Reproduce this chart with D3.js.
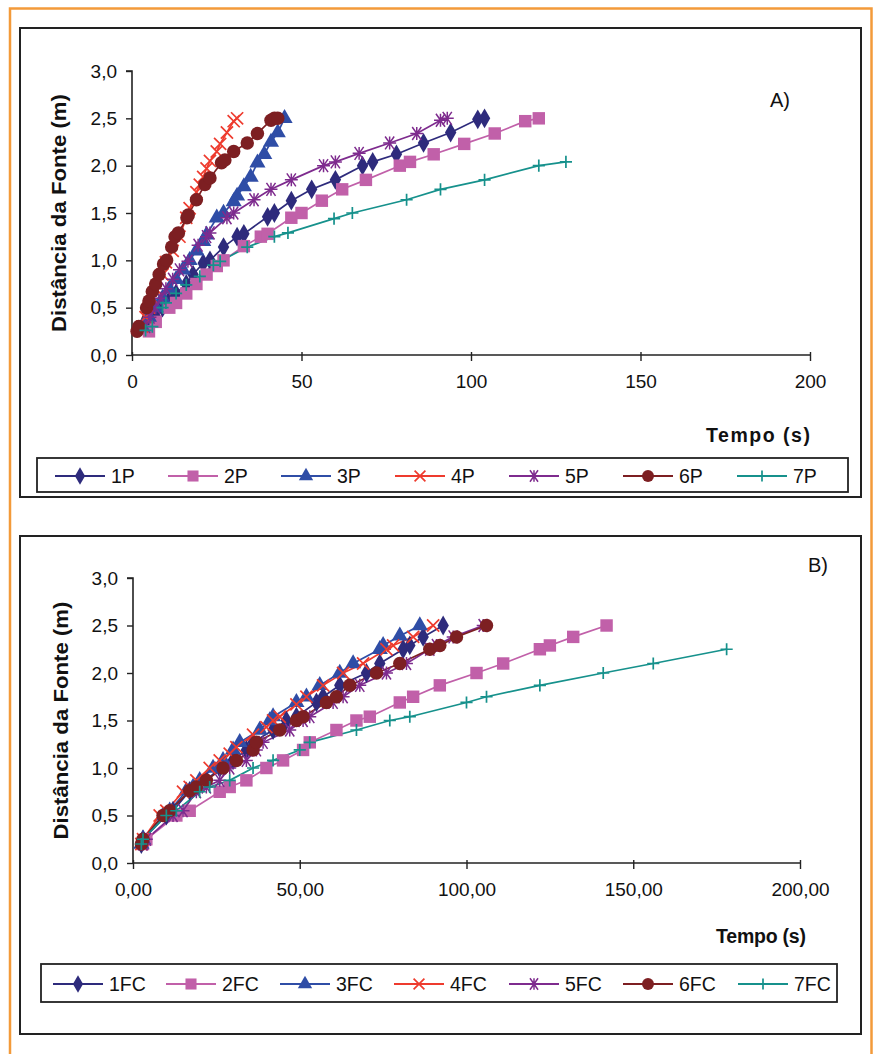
<!DOCTYPE html>
<html><head><meta charset="utf-8">
<script src="https://cdn.jsdelivr.net/npm/d3@7"></script>
<style>body{margin:0;background:#fff}svg{display:block}text{font-family:"Liberation Sans",Arial,sans-serif;fill:#111}</style>
</head><body><svg id="c" width="880" height="1054"></svg>
<script>
// ---- data ----
const seriesNamesA = ["1P","2P","3P","4P","5P","6P","7P"];
const seriesNamesB = ["1FC","2FC","3FC","4FC","5FC","6FC","7FC"];
const colors = ["#2E2B7C","#C160A9","#2F4DA6","#EE3B2E","#7E2B8E","#7D1F22","#16918C"];
const shapes = ["diamond","square","triangle","x","star","circle","plus"];
const xTicksA = [0,50,100,150,200];
const xTicksB = [0,50,100,150,200];
const yTicks = [0,0.5,1.0,1.5,2.0,2.5,3.0];

const a1P = [[5,0.3],[7,0.4],[9,0.5],[11,0.58],[13,0.65],[16,0.75],[18,0.85],[21,0.97],[23,1.0],[27,1.14],[31,1.25],[33,1.28],[40,1.46],[42,1.5],[47,1.63],[53,1.75],[60,1.85],[68,2.0],[71,2.04],[78,2.12],[86,2.24],[94,2.35],[102,2.49],[104,2.5]];
const a2P = [[5,0.25],[7,0.35],[11,0.5],[13,0.55],[16,0.65],[19,0.75],[22,0.85],[25,0.94],[27,1.0],[33,1.15],[38,1.25],[40,1.28],[47,1.45],[50,1.5],[56,1.63],[62,1.75],[69,1.85],[79,2.0],[82,2.04],[89,2.12],[98,2.23],[107,2.34],[116,2.47],[120,2.5]];
const a3P = [[3,0.3],[5,0.4],[7,0.5],[9,0.6],[11,0.7],[13,0.8],[15,0.9],[17,1.0],[19,1.1],[21,1.2],[22,1.27],[25,1.45],[27,1.5],[30,1.62],[31,1.68],[33,1.78],[35,1.88],[37,2.03],[39,2.12],[41,2.25],[43,2.35],[45,2.5]];
const a4P = [[3,0.3],[4,0.4],[5,0.5],[6,0.6],[7,0.7],[9,0.85],[10,0.98],[12,1.1],[14,1.25],[16,1.45],[17,1.55],[19,1.72],[20,1.8],[21,1.88],[22,1.97],[23,2.05],[25,2.15],[26,2.23],[28,2.35],[30,2.47],[31,2.5]];
const a5P = [[4,0.3],[5.3,0.4],[7,0.5],[8.5,0.6],[10,0.7],[12,0.8],[14,0.9],[16.5,0.99],[19.5,1.16],[22,1.25],[23,1.29],[28,1.45],[30,1.5],[36,1.64],[41,1.75],[47,1.85],[56.5,2.0],[60,2.04],[67,2.13],[76,2.24],[84,2.34],[91,2.48],[93,2.5]];
const a6P = [[1.5,0.25],[2,0.3],[4.3,0.5],[5,0.57],[6,0.67],[7,0.75],[8,0.85],[9.3,0.96],[10.2,1.0],[11.7,1.14],[12.7,1.25],[13.7,1.29],[16.2,1.45],[16.6,1.48],[19,1.64],[21.5,1.8],[23,1.87],[26.4,2.03],[27.4,2.06],[30,2.15],[34,2.24],[37,2.34],[41,2.48],[42,2.5],[43,2.5]];
const a7P = [[4,0.26],[6,0.3],[9,0.5],[10,0.55],[13,0.65],[16,0.74],[20,0.83],[24,0.95],[26,0.99],[34,1.14],[42,1.25],[46,1.29],[59.6,1.44],[65,1.5],[81,1.64],[91,1.75],[104,1.85],[120,2.0],[128,2.04]];

const b1FC = [[2.5,0.2],[3,0.25],[10,0.5],[12,0.55],[17,0.76],[19,0.8],[22,0.87],[26,1.0],[30,1.08],[34,1.19],[36,1.27],[42,1.4],[46,1.5],[49,1.54],[55,1.69],[57,1.75],[62,1.87],[70,2.0],[74,2.1],[81,2.25],[83,2.29],[87,2.38],[93,2.5]];
const b2FC = [[3,0.2],[4,0.25],[13,0.5],[17,0.55],[26,0.75],[29,0.8],[34,0.87],[40,1.0],[45,1.08],[51,1.19],[53,1.27],[61,1.4],[67,1.5],[71,1.54],[80,1.69],[84,1.75],[92,1.87],[103,2.0],[111,2.1],[122,2.25],[125,2.29],[132,2.38],[142,2.5]];
const b3FC = [[2.5,0.2],[3,0.25],[9,0.5],[11,0.55],[16,0.76],[18,0.8],[20,0.87],[24,1.0],[27,1.08],[30,1.19],[32,1.27],[38,1.4],[41,1.5],[42,1.54],[49,1.69],[52,1.75],[56,1.87],[62,2.0],[66,2.1],[74,2.25],[75,2.29],[80,2.39],[86,2.5]];
const b4FC = [[2.5,0.2],[3,0.25],[8,0.5],[10,0.55],[15,0.75],[17,0.8],[19,0.87],[23,1.0],[26,1.08],[29,1.15],[31,1.22],[36,1.35],[40,1.43],[42,1.5],[44,1.54],[49,1.67],[52,1.75],[57,1.87],[63,2.0],[69,2.1],[76,2.25],[78,2.29],[84,2.38],[90,2.5]];
const b5FC = [[3,0.2],[4,0.25],[12,0.5],[15,0.55],[19,0.75],[22,0.8],[26,0.87],[29,1.0],[34,1.08],[37,1.19],[39,1.27],[47,1.4],[51,1.5],[53,1.54],[60,1.69],[63,1.75],[68,1.87],[76,2.0],[82,2.1],[89,2.25],[91,2.29],[96,2.38],[105,2.5]];
const b6FC = [[2.5,0.2],[3,0.25],[9,0.5],[11,0.55],[17,0.76],[19,0.8],[22,0.87],[27,1.0],[31,1.08],[36,1.19],[37,1.27],[44,1.4],[49,1.5],[51,1.54],[58,1.69],[61,1.75],[65,1.87],[73,2.0],[80,2.1],[89,2.25],[92,2.29],[97,2.38],[106,2.5]];
const b7FC = [[2.5,0.2],[3,0.25],[10,0.5],[13,0.55],[20,0.75],[23,0.8],[29,0.87],[36,1.0],[42,1.08],[50,1.19],[53,1.27],[67,1.4],[77,1.5],[83,1.54],[100,1.69],[106,1.75],[122,1.87],[141,2.0],[156,2.1],[178,2.25]];

const dataA = [a1P,a2P,a3P,a4P,a5P,a6P,a7P];
const dataB = [b1FC,b2FC,b3FC,b4FC,b5FC,b6FC,b7FC];

// ---- drawing ----
const svg = d3.select("#c");
svg.append("rect").attr("x",0).attr("y",0).attr("width",880).attr("height",1054).attr("fill","#fff");
svg.append("rect").attr("x",10).attr("y",8.5).attr("width",861.5).attr("height",1060)
  .attr("fill","none").attr("stroke","#F39A3A").attr("stroke-width",2.5);

function marker(g, shape, color, s){
  const sym = {diamond:d3.symbolDiamond, square:d3.symbolSquare, triangle:d3.symbolTriangle, circle:d3.symbolCircle};
  if (sym[shape]){
    const size = {diamond:s*s*0.62, square:s*s*0.85, triangle:s*s*0.62, circle:s*s*0.78}[shape];
    g.append("path").attr("d", d3.symbol(sym[shape], size)()).attr("fill", color);
  } else if (shape==="x"){
    const r = s*0.45;
    g.append("path").attr("d",`M${-r},${-r}L${r},${r}M${-r},${r}L${r},${-r}`).attr("stroke",color).attr("stroke-width",1.7).attr("fill","none");
  } else if (shape==="star"){
    const r = s*0.48;
    g.append("path").attr("d",`M${-r*0.7},${-r}L${r*0.7},${r}M${-r*0.7},${r}L${r*0.7},${-r}M${-r},0L${r},0M0,${-r}L0,${r}`).attr("stroke",color).attr("stroke-width",1.5).attr("fill","none");
  } else if (shape==="plus"){
    const r = s*0.45;
    g.append("path").attr("d",`M${-r},0L${r},0M0,${-r}L0,${r}`).attr("stroke",color).attr("stroke-width",1.7).attr("fill","none");
  }
}

function panel(cfg){
  svg.append("rect").attr("x",cfg.frame[0]).attr("y",cfg.frame[1]).attr("width",cfg.frame[2]).attr("height",cfg.frame[3])
    .attr("fill","#fff").attr("stroke","#222").attr("stroke-width",2);
  const x = d3.scaleLinear().domain([0,200]).range([cfg.x0,cfg.x1]);
  const y = d3.scaleLinear().domain([0,3]).range([cfg.y0,cfg.y1]);
  const g = svg.append("g");
  const xa = g.append("g").attr("transform",`translate(0,${cfg.y0})`)
    .call(d3.axisBottom(x).tickValues(cfg.xTicks).tickSize(7).tickPadding(13).tickFormat(cfg.xFmt));
  xa.select(".domain").attr("stroke","#222").attr("stroke-width",1.6).attr("d",`M${cfg.x0},0H${cfg.x1}`);
  xa.selectAll(".tick line").attr("stroke","#222").attr("stroke-width",1.4).attr("y1",-3).attr("y2",6);
  xa.selectAll(".tick text").attr("font-size",19).attr("fill","#222").style("font-family","Liberation Sans, Arial, sans-serif");
  const ya = g.append("g").attr("transform",`translate(${cfg.x0},0)`)
    .call(d3.axisLeft(y).tickValues(yTicks).tickSize(6).tickPadding(9).tickFormat(d=>d3.format(".1f")(d).replace(".",",")));
  ya.select(".domain").attr("stroke","#222").attr("stroke-width",1.6).attr("d",`M-6,${cfg.y1}H0V${cfg.y0}`);
  ya.selectAll(".tick line").attr("stroke","#222").attr("stroke-width",1.4);
  ya.selectAll(".tick text").attr("font-size",19).attr("fill","#222").style("font-family","Liberation Sans, Arial, sans-serif");
  g.append("text").attr("transform",`translate(${cfg.ytx},${(cfg.y0+cfg.y1)/2}) rotate(-90)`)
    .attr("text-anchor","middle").attr("font-size",19.5).attr("font-weight","bold")
    .attr("textLength",238).attr("lengthAdjust","spacingAndGlyphs").text("Distância da Fonte (m)");
  g.append("text").attr("x",cfg.xtx).attr("y",cfg.xty).attr("text-anchor","end")
    .attr("font-size",19.5).attr("font-weight","bold").attr("textLength",cfg.xtl).text("Tempo (s)");
  g.append("text").attr("x",cfg.lx).attr("y",cfg.ly).attr("text-anchor","middle")
    .attr("font-size",20).text(cfg.label);
  const line = d3.line().x(d=>x(d[0])).y(d=>y(d[1]));
  cfg.data.forEach((s,i)=>{
    g.append("path").datum(s).attr("d",line).attr("fill","none").attr("stroke",colors[i]).attr("stroke-width",1.7);
  });
  cfg.data.forEach((s,i)=>{
    s.forEach(d=>{
      const mg = g.append("g").attr("transform",`translate(${x(d[0])},${y(d[1])})`);
      marker(mg, shapes[i], colors[i], 13.5);
    });
  });
  const L = cfg.legend;
  svg.append("rect").attr("x",L.x).attr("y",L.y).attr("width",L.w).attr("height",L.h)
    .attr("fill","#fff").attr("stroke","#222").attr("stroke-width",1.8);
  const cy = L.y + L.h/2 + 1;
  cfg.names.forEach((n,i)=>{
    const mx = L.mx[i];
    svg.append("line").attr("x1",mx-25).attr("x2",mx+25).attr("y1",cy).attr("y2",cy).attr("stroke",colors[i]).attr("stroke-width",2);
    const mg = svg.append("g").attr("transform",`translate(${mx},${cy})`);
    marker(mg, shapes[i], colors[i], 12);
    svg.append("text").attr("x",mx+31).attr("y",cy+7).attr("font-size",19.5).attr("fill","#222").text(n);
  });
}

panel({frame:[20,28,841,469], x0:132, x1:810, y0:355, y1:71, xTicks:xTicksA, xFmt:d3.format("d"),
  ytx:66, xtx:810, xty:442, xtl:104, lx:780, ly:107, label:"A)", data:dataA, names:seriesNamesA,
  legend:{x:37,y:458,w:811,h:34, mx:[80,193,306,420,534,648,762]}});
panel({frame:[20,536,841,498], x0:133, x1:800, y0:863, y1:578, xTicks:xTicksB, xFmt:d=>d3.format(".2f")(d).replace(".",","),
  ytx:68, xtx:806, xty:943, xtl:90, lx:818, ly:572, label:"B)", data:dataB, names:seriesNamesB,
  legend:{x:41,y:964,w:796,h:38, mx:[78,191,305,419,534,648,763]}});
</script></body></html>
